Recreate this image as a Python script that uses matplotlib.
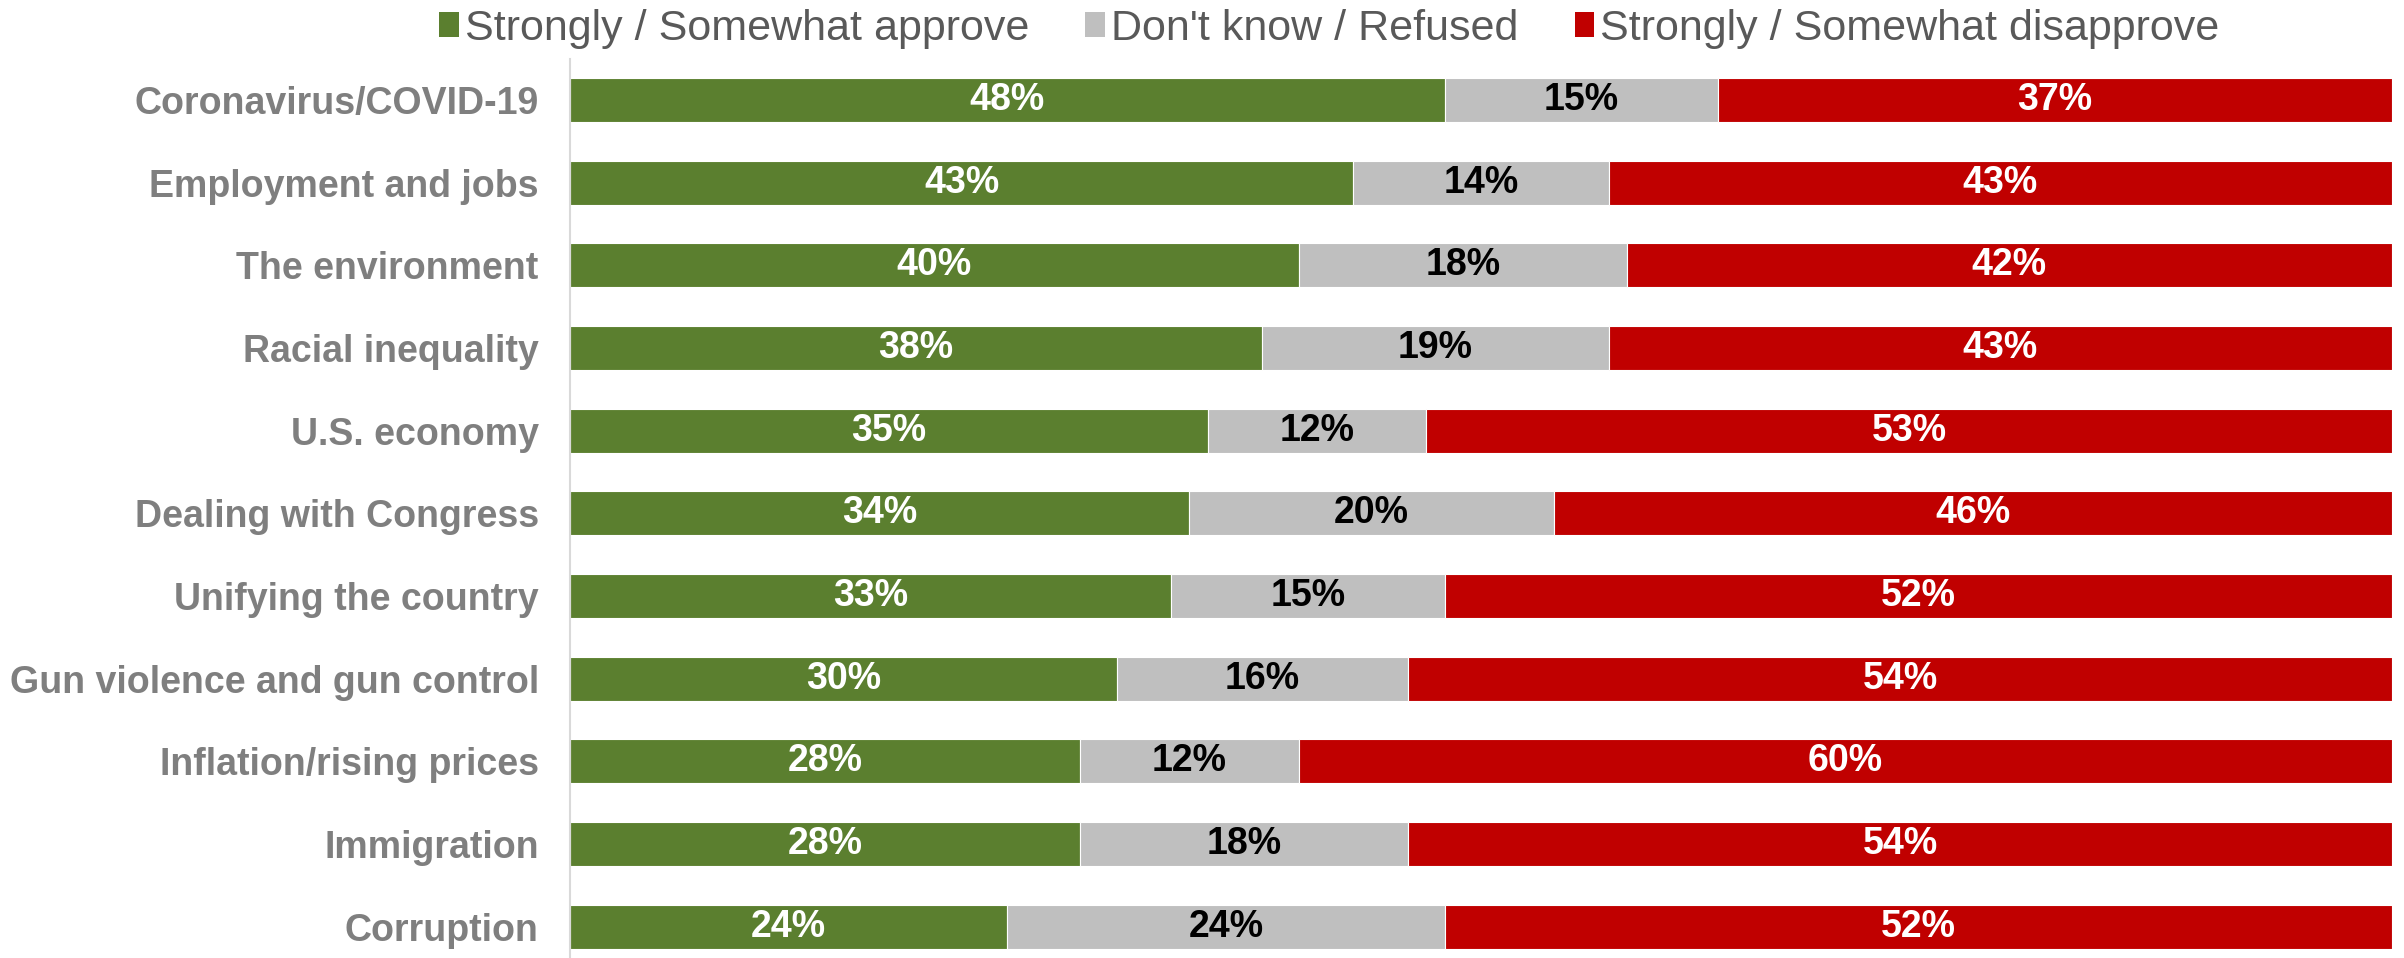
import matplotlib
matplotlib.use("Agg")
import matplotlib.pyplot as plt
from matplotlib.patches import Patch

categories = ["Coronavirus/COVID-19", "Employment and jobs", "The environment",
              "Racial inequality", "U.S. economy", "Dealing with Congress",
              "Unifying the country", "Gun violence and gun control",
              "Inflation/rising prices", "Immigration", "Corruption"]
approve = [48, 43, 40, 38, 35, 34, 33, 30, 28, 28, 24]
dont_know = [15, 14, 18, 19, 12, 20, 15, 16, 12, 18, 24]
disapprove = [37, 43, 42, 43, 53, 46, 52, 54, 60, 54, 52]
series_names = ["Strongly / Somewhat approve", "Don't know / Refused",
                "Strongly / Somewhat disapprove"]

colors = ["#5B7F2F", "#BFBFBF", "#C00000"]
text_colors = ["white", "black", "white"]

plt.rcParams['font.family'] = ['Liberation Sans', 'DejaVu Sans']

fig = plt.figure(figsize=(24.04, 9.58), dpi=100)
ax = fig.add_axes([570/2404, -0.0104, (2392-570)/2404, 0.9492])

y = list(range(len(categories)))
left = [0] * len(categories)
for vals, col, tcol in zip([approve, dont_know, disapprove], colors, text_colors):
    bars = ax.barh(y, vals, left=left, height=0.53, color=col,
                   edgecolor="white", linewidth=0.8)
    for b, v in zip(bars, vals):
        ax.text(b.get_x() + b.get_width() / 2, b.get_y() + b.get_height() / 2,
                f"{v}%", ha="center", va="center", color=tcol,
                fontsize=27, fontweight="bold")
    left = [l + v for l, v in zip(left, vals)]

ax.set_xlim(0, 100)
ax.set_ylim(len(categories) - 0.5, -0.5)
ax.set_yticks(y)
ax.set_yticklabels(categories, fontsize=27, fontweight="bold", color="#7F7F7F")
ax.tick_params(axis="y", length=0, pad=22.5)
ax.set_xticks([])
for s in ["top", "right", "bottom"]:
    ax.spines[s].set_visible(False)
ax.spines["left"].set_color("#D9D9D9")
ax.spines["left"].set_linewidth(1.5)

handles = [Patch(facecolor=c, edgecolor="none") for c in colors]
fig.legend(handles, series_names, loc="center", bbox_to_anchor=(0.553, 0.970),
           ncol=3, frameon=False, fontsize=31, labelcolor="#595959",
           handlelength=0.45, handleheight=0.5, handletextpad=0.15,
           columnspacing=1.3, borderpad=0, borderaxespad=0)

fig.savefig("out.png", dpi=100)
